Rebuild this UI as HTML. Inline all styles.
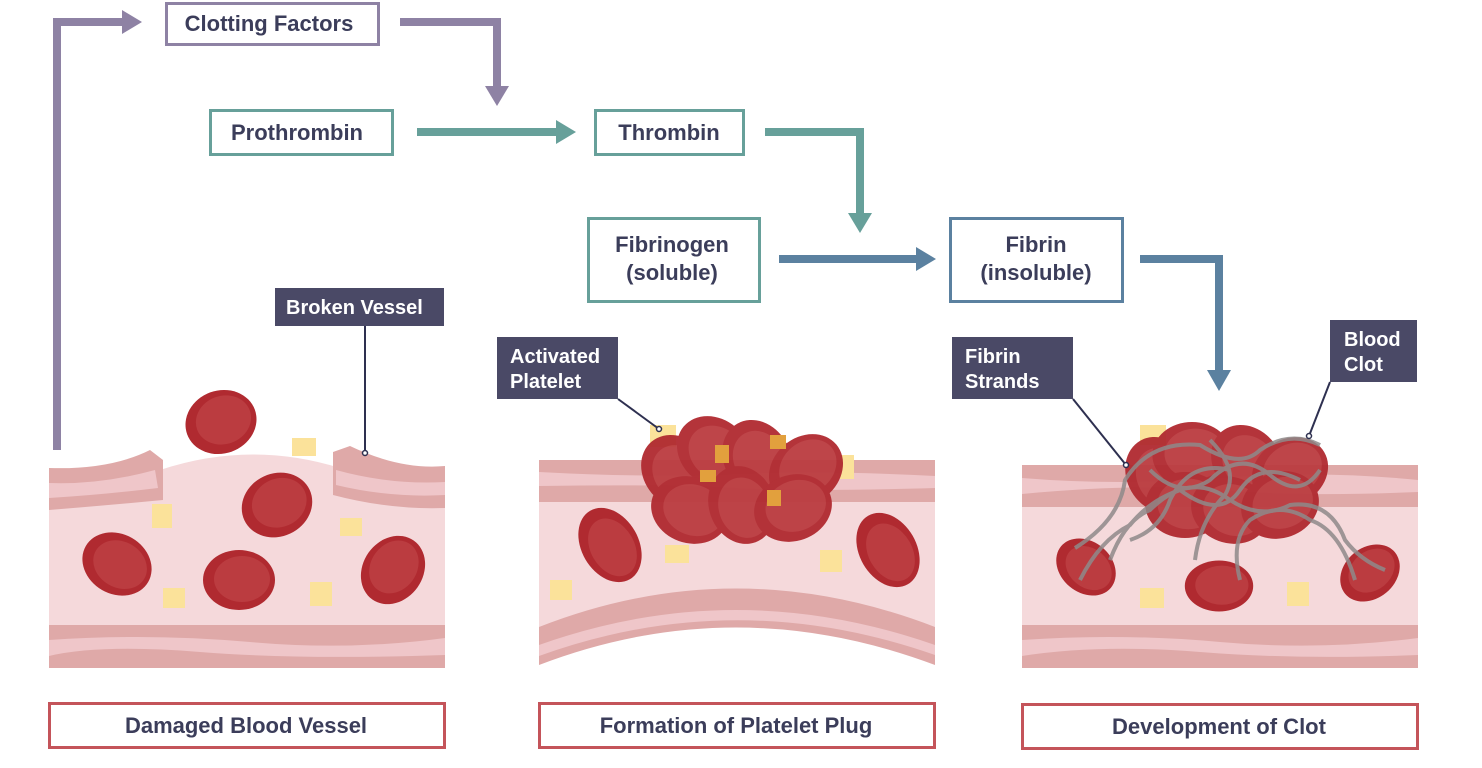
<!DOCTYPE html>
<html><head><meta charset="utf-8"><style>
html,body{margin:0;padding:0;background:#fff;}
svg{display:block;font-family:"Liberation Sans",Arial,sans-serif;font-weight:bold;}
</style></head><body>
<svg width="1482" height="768" viewBox="0 0 1482 768">
<defs>
<g id="rbc"><ellipse rx="36" ry="30" fill="#b02a30"/><ellipse rx="28" ry="23" cx="3" cy="-1" fill="#bb3c40"/></g>
</defs>

<!-- Flow arrows -->
<g fill="none" stroke="#8e82a4" stroke-width="8">
<polyline points="57,450 57,22 124,22"/><polyline points="400,22 497,22 497,88"/></g>
<polygon points="122,10 142,22 122,34" fill="#8e82a4"/>
<polygon points="485,86 509,86 497,106" fill="#8e82a4"/>
<g fill="none" stroke="#67a09a" stroke-width="8">
<line x1="417" y1="132" x2="558" y2="132"/><polyline points="765,132 860,132 860,215"/></g>
<polygon points="556,120 576,132 556,144" fill="#67a09a"/>
<polygon points="848,213 872,213 860,233" fill="#67a09a"/>
<g fill="none" stroke="#5b81a0" stroke-width="8">
<line x1="779" y1="259" x2="918" y2="259"/><polyline points="1140,259 1219,259 1219,372"/></g>
<polygon points="916,247 936,259 916,271" fill="#5b81a0"/>
<polygon points="1207,370 1231,370 1219,391" fill="#5b81a0"/>

<!-- Process boxes -->
<g font-size="22" fill="#3b3d5a" text-anchor="middle">
<g><rect x="166.5" y="3.5" width="212" height="41" fill="#fff" stroke="#8e82a4" stroke-width="3"/><text x="269" y="31">Clotting Factors</text></g>
<g><rect x="210.5" y="110.5" width="182" height="44" fill="#fff" stroke="#67a09a" stroke-width="3"/><text x="297" y="140">Prothrombin</text></g>
<g><rect x="595.5" y="110.5" width="148" height="44" fill="#fff" stroke="#67a09a" stroke-width="3"/><text x="669" y="140">Thrombin</text></g>
<g><rect x="588.5" y="218.5" width="171" height="83" fill="#fff" stroke="#67a09a" stroke-width="3"/><text x="672" y="252">Fibrinogen</text><text x="672" y="280">(soluble)</text></g>
<g><rect x="950.5" y="218.5" width="172" height="83" fill="#fff" stroke="#5b81a0" stroke-width="3"/><text x="1036" y="252">Fibrin</text><text x="1036" y="280">(insoluble)</text></g>
<g><rect x="49.5" y="703.5" width="395" height="44" fill="#fff" stroke="#c4545a" stroke-width="3"/><text x="246" y="733">Damaged Blood Vessel</text></g>
<g><rect x="539.5" y="703.5" width="395" height="44" fill="#fff" stroke="#c4545a" stroke-width="3"/><text x="736" y="733">Formation of Platelet Plug</text></g>
<g><rect x="1022.5" y="704.5" width="395" height="44" fill="#fff" stroke="#c4545a" stroke-width="3"/><text x="1219" y="734">Development of Clot</text></g>
</g>

<!-- Vessel 1 -->
<g>
<path d="M49,500 L160,470 Q250,440 340,468 L445,500 L445,630 L49,630Z" fill="#f5d9db"/>
<path d="M49,468 Q110,470 150,450 L163,460 L163,500 Q110,505 49,510Z" fill="#dfa9a8"/>
<path d="M49,483 Q100,485 155,470 L158,488 Q100,495 49,498Z" fill="#efc6c9"/>
<path d="M333,452 L350,446 Q400,470 445,466 L445,508 Q390,510 333,495Z" fill="#dfa9a8"/>
<path d="M336,470 Q390,485 445,482 L445,495 Q390,498 336,485Z" fill="#efc6c9"/>
<rect x="49" y="625" width="396" height="43" fill="#dfa9a8"/>
<path d="M49,640 Q150,633 250,642 T445,638 L445,655 Q300,660 200,652 T49,656Z" fill="#efc6c9"/>
<use href="#rbc" transform="translate(221,422) rotate(-20) scale(1,1.05)"/>
<use href="#rbc" transform="translate(277,505) rotate(-25) scale(1,1.05)"/>
<use href="#rbc" transform="translate(117,564) rotate(30)"/>
<use href="#rbc" transform="translate(239,580)"/>
<use href="#rbc" transform="translate(393,570) rotate(-55)"/>
<g fill="#fbe29a"><rect x="292" y="438" width="24" height="18"/><rect x="152" y="504" width="20" height="24"/><rect x="340" y="518" width="22" height="18"/><rect x="163" y="588" width="22" height="20"/><rect x="310" y="582" width="22" height="24"/></g>
</g>

<!-- Vessel 2 -->
<g>
<path d="M539,500 L935,500 L935,628 Q735,560 539,628Z" fill="#f5d9db"/>
<rect x="539" y="460" width="396" height="42" fill="#dfa9a8"/>
<path d="M539,472 Q650,478 735,474 T935,476 L935,488 Q800,492 735,488 T539,486Z" fill="#efc6c9"/>
<path d="M539,627 Q735,550 935,627 L935,665 Q735,590 539,665Z" fill="#dfa9a8"/>
<path d="M539,645 Q735,575 935,645 L935,655 Q735,585 539,656Z" fill="#efc6c9"/>
<use href="#rbc" transform="translate(610,545) rotate(60) scale(1.1,0.95)"/>
<use href="#rbc" transform="translate(888,550) rotate(60) scale(1.1,0.95)"/>
<g fill="#fbe29a"><rect x="665" y="545" width="24" height="18"/><rect x="550" y="580" width="22" height="20"/><rect x="820" y="550" width="22" height="22"/><rect x="650" y="425" width="26" height="22"/><rect x="840" y="455" width="14" height="24"/></g>
<g opacity="0.95">
<use href="#rbc" transform="translate(677,472) rotate(50) scale(1.1)"/>
<use href="#rbc" transform="translate(714,452) rotate(40) scale(1.1)"/>
<use href="#rbc" transform="translate(757,458) rotate(60) scale(1.1)"/>
<use href="#rbc" transform="translate(806,470) rotate(-40) scale(1.1)"/>
<use href="#rbc" transform="translate(690,510) rotate(20) scale(1.1)"/>
<use href="#rbc" transform="translate(742,505) rotate(70) scale(1.1)"/>
<use href="#rbc" transform="translate(793,508) rotate(-20) scale(1.1)"/>
</g>
<g fill="#e2a03d"><rect x="715" y="445" width="14" height="18"/><rect x="770" y="435" width="16" height="14"/><rect x="700" y="470" width="16" height="12"/><rect x="767" y="490" width="14" height="16"/></g>
</g>

<!-- Vessel 3 -->
<g>
<rect x="1022" y="505" width="396" height="125" fill="#f5d9db"/>
<rect x="1022" y="465" width="396" height="42" fill="#dfa9a8"/>
<path d="M1022,478 Q1120,486 1220,478 T1418,480 L1418,492 Q1300,497 1220,490 T1022,494Z" fill="#efc6c9"/>
<rect x="1022" y="625" width="396" height="43" fill="#dfa9a8"/>
<path d="M1022,640 Q1120,633 1220,642 T1418,638 L1418,655 Q1300,660 1200,652 T1022,656Z" fill="#efc6c9"/>
<use href="#rbc" transform="translate(1086,567) rotate(40) scale(0.9,0.85)"/>
<use href="#rbc" transform="translate(1219,586) scale(0.95,0.85)"/>
<use href="#rbc" transform="translate(1370,573) rotate(-40) scale(0.9,0.85)"/>
<g fill="#fbe29a"><rect x="1140" y="588" width="24" height="20"/><rect x="1287" y="582" width="22" height="24"/><rect x="1140" y="425" width="26" height="20"/></g>
<g opacity="0.95">
<use href="#rbc" transform="translate(1160,475) rotate(60) scale(1.1)"/>
<use href="#rbc" transform="translate(1192,455) scale(1.1)"/>
<use href="#rbc" transform="translate(1247,462) rotate(50) scale(1.1)"/>
<use href="#rbc" transform="translate(1290,472) rotate(-30) scale(1.1)"/>
<use href="#rbc" transform="translate(1185,505) scale(1.1)"/>
<use href="#rbc" transform="translate(1230,510) rotate(20) scale(1.1)"/>
<use href="#rbc" transform="translate(1280,505) rotate(-20) scale(1.1)"/>
</g>
<g fill="none" stroke="#8f8a8a" stroke-width="4" opacity="0.85">
<path d="M1075,548 Q1120,520 1125,480 Q1150,440 1200,445 Q1240,470 1260,450 Q1290,430 1320,445"/>
<path d="M1080,580 Q1100,540 1130,525 Q1150,500 1180,490 Q1220,520 1240,490 Q1260,460 1300,480"/>
<path d="M1110,560 Q1125,520 1150,510 Q1190,470 1230,500 Q1260,520 1290,505 Q1330,500 1345,540 Q1360,560 1385,570"/>
<path d="M1195,560 Q1200,520 1225,495 Q1240,470 1210,440"/>
<path d="M1240,580 Q1230,540 1250,520 Q1280,500 1310,520 Q1340,530 1355,580"/>
<path d="M1150,470 Q1180,500 1210,480 Q1240,450 1270,475 Q1300,500 1320,470"/>
<path d="M1130,540 Q1160,530 1170,500 Q1190,460 1230,470"/>
</g>
</g>

<!-- Callout labels -->
<g font-size="20" fill="#fff">
<g><rect x="275" y="288" width="169" height="38" fill="#4a4966"/><text x="286" y="314">Broken Vessel</text>
<line x1="365" y1="326" x2="365" y2="452" stroke="#2e3050" stroke-width="2"/><circle cx="365" cy="453" r="2.5" fill="#fff" stroke="#2e3050" stroke-width="1.5"/></g>
<g><rect x="497" y="337" width="121" height="62" fill="#4a4966"/><text x="510" y="363">Activated</text><text x="510" y="388">Platelet</text>
<line x1="618" y1="399" x2="659" y2="429" stroke="#2e3050" stroke-width="2"/><circle cx="659" cy="429" r="2.5" fill="#fff" stroke="#2e3050" stroke-width="1.5"/></g>
<g><rect x="952" y="337" width="121" height="62" fill="#4a4966"/><text x="965" y="363">Fibrin</text><text x="965" y="388">Strands</text>
<line x1="1073" y1="399" x2="1126" y2="465" stroke="#2e3050" stroke-width="2"/><circle cx="1126" cy="465" r="2.5" fill="#fff" stroke="#2e3050" stroke-width="1.5"/></g>
<g><rect x="1330" y="320" width="87" height="62" fill="#4a4966"/><text x="1344" y="346">Blood</text><text x="1344" y="371">Clot</text>
<line x1="1330" y1="382" x2="1309" y2="436" stroke="#2e3050" stroke-width="2"/><circle cx="1309" cy="436" r="2.5" fill="#fff" stroke="#2e3050" stroke-width="1.5"/></g>
</g>
</svg>
</body></html>
